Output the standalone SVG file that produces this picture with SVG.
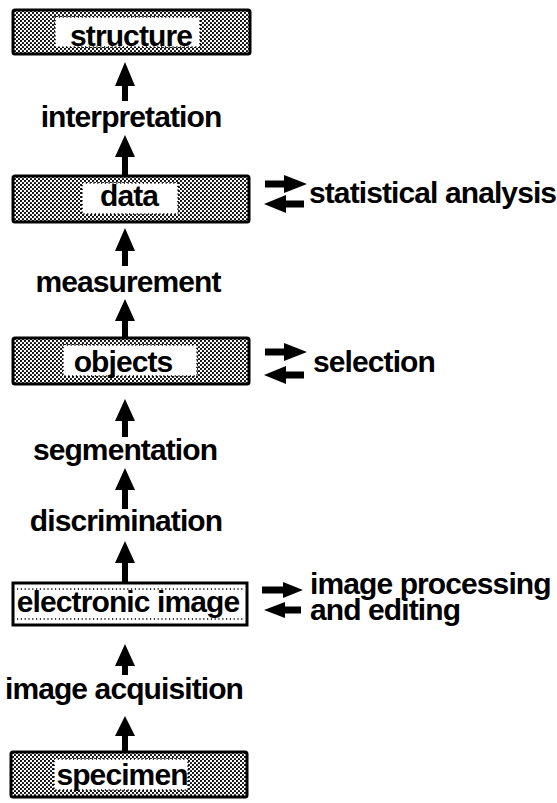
<svg xmlns="http://www.w3.org/2000/svg" width="557" height="803" viewBox="0 0 557 803">
<defs>
<pattern id="dots" width="4" height="4" patternUnits="userSpaceOnUse">
<rect width="4" height="4" fill="#fff"/>
<circle cx="1" cy="1" r="1.1" fill="#000"/>
<circle cx="3" cy="3" r="1.1" fill="#000"/>
</pattern>
<style>
.box{fill:url(#dots);stroke:#000;stroke-width:3}
.plain{fill:#fff;stroke:#000;stroke-width:3}
.win{fill:#fff;stroke:#000;stroke-width:1.6;stroke-dasharray:1.2 2.6}
.dotline{stroke:#000;stroke-width:1.6;stroke-dasharray:1.2 2.6;fill:none}
.t{font-family:"Liberation Sans",Arial,sans-serif;font-weight:bold;font-size:30px;letter-spacing:-0.9px;fill:#000}
.c{text-anchor:middle}
.arr{fill:#000;stroke:none}
</style>
</defs>
<rect width="557" height="803" fill="#fff"/>

<g id="structure">
<rect class="box" x="13" y="10" width="237" height="44" rx="2"/>
<rect class="win" x="55" y="17" width="145" height="30"/>
<text class="t c" x="131" y="46">structure</text>
</g>

<text id="interpretation" class="t c" x="131" y="127">interpretation</text>

<g id="data">
<rect class="box" x="13" y="176" width="236" height="46" rx="2"/>
<rect class="win" x="82" y="183" width="96" height="31"/>
<text class="t c" x="129" y="206">data</text>
</g>

<text id="statistical-analysis" class="t" x="309" y="203">statistical analysis</text>

<text id="measurement" class="t c" x="128" y="292">measurement</text>

<g id="objects">
<rect class="box" x="13" y="338" width="236" height="46" rx="2"/>
<rect class="win" x="63" y="345" width="134" height="31"/>
<text class="t c" x="123" y="372">objects</text>
</g>

<text id="selection" class="t" x="313" y="372">selection</text>

<text id="segmentation" class="t c" x="125" y="460">segmentation</text>

<text id="discrimination" class="t c" x="126" y="531">discrimination</text>

<g id="electronic-image">
<rect class="plain" x="13" y="583" width="234" height="42"/>
<line class="dotline" x1="17" y1="589" x2="243" y2="589"/>
<line class="dotline" x1="17" y1="619" x2="243" y2="619"/>
<text class="t c" x="128" y="612">electronic image</text>
</g>

<text id="image-processing" class="t" x="310" y="594">image processing<tspan x="310" dy="26">and editing</tspan></text>

<text id="image-acquisition" class="t c" x="124" y="699">image acquisition</text>

<g id="specimen">
<rect class="box" x="11" y="752" width="236" height="45" rx="2"/>
<rect class="win" x="54" y="759" width="134" height="31"/>
<text class="t c" x="122" y="785">specimen</text>
</g>

<g id="connectors">
<path class="arr" d="M125,62 L135,86 L128,86 L128,101 L122,101 L122,86 L115,86 Z"/>
<path class="arr" d="M125,135 L135,157 L128,157 L128,175 L122,175 L122,157 L115,157 Z"/>
<path class="arr" d="M125,228 L135,251 L128,251 L128,266 L122,266 L122,251 L115,251 Z"/>
<path class="arr" d="M125,299 L135,321 L128,321 L128,338 L122,338 L122,321 L115,321 Z"/>
<path class="arr" d="M125,399 L135,421 L128,421 L128,437 L122,437 L122,421 L115,421 Z"/>
<path class="arr" d="M125,468 L135,490 L128,490 L128,509 L122,509 L122,490 L115,490 Z"/>
<path class="arr" d="M125,541 L135,563 L128,563 L128,583 L122,583 L122,563 L115,563 Z"/>
<path class="arr" d="M125,644 L135,666 L128,666 L128,675 L122,675 L122,666 L115,666 Z"/>
<path class="arr" d="M125,716 L135,736 L128,736 L128,752 L122,752 L122,736 L115,736 Z"/>
<!-- side arrows -->
<path class="arr" d="M307,184 L284,175 L284,180.5 L265,180.5 L265,187.5 L284,187.5 L284,193 Z"/>
<path class="arr" d="M264,204 L286,195 L286,200.5 L304,200.5 L304,207.5 L286,207.5 L286,213 Z"/>
<path class="arr" d="M307,352 L284,343 L284,348.5 L265,348.5 L265,355.5 L284,355.5 L284,361 Z"/>
<path class="arr" d="M264,375 L286,366 L286,371.5 L304,371.5 L304,378.5 L286,378.5 L286,384 Z"/>
<path class="arr" d="M303,590 L283,582 L283,586.5 L262,586.5 L262,593.5 L283,593.5 L283,598 Z"/>
<path class="arr" d="M264,610 L285,602 L285,606.5 L301,606.5 L301,613.5 L285,613.5 L285,618 Z"/>
</g>
</svg>
